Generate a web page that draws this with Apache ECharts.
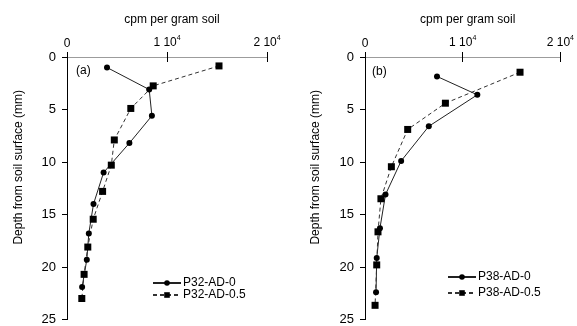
<!DOCTYPE html>
<html>
<head>
<meta charset="utf-8">
<script src="https://cdn.jsdelivr.net/npm/echarts@6/dist/echarts.min.js"></script>
<style>
html,body{margin:0;padding:0;background:#fff;}
#c{width:577px;height:326px;}
</style>
</head>
<body>
<div id="c"></div>
<script>
// ---- data ----
var xTicks = [0, 10000, 20000];
var xTickLabels = ['0', '1 10^4', '2 10^4'];
var yTicks = [0, 5, 10, 15, 20, 25];

// Panel (a)
var depthA0 = [1.0, 3.1, 5.6, 8.2, 11.0, 14.0, 16.8, 19.3, 21.9];
var cpmA0   = [4000, 8220, 8490, 6240, 3660, 2650, 2180, 1980, 1510];
var depthA5 = [0.85, 2.75, 4.9, 7.9, 10.3, 12.8, 15.45, 18.1, 20.7, 23.0];
var cpmA5   = [15200, 8620, 6380, 4730, 4430, 3560, 2620, 2080, 1710, 1480];

// Panel (b)
var depthB0 = [1.85, 3.6, 6.6, 9.9, 13.1, 16.3, 19.15, 22.4];
var cpmB0   = [7370, 11500, 6530, 3700, 2100, 1530, 1200, 1130];
var depthB5 = [1.45, 4.4, 6.9, 10.45, 13.5, 16.65, 19.8, 23.65];
var cpmB5   = [15870, 8230, 4370, 2700, 1630, 1330, 1200, 1030];

var namesA = ['P32-AD-0', 'P32-AD-0.5'];
var namesB = ['P38-AD-0', 'P38-AD-0.5'];
var panelLabels = ['(a)', '(b)'];
var xName = 'cpm per gram soil';
var yName = 'Depth from soil surface (mm)';

function pairs(xs, ys){ return xs.map(function(x,i){ return [x, ys[i]]; }); }

var FONT = '"Liberation Sans", Arial, sans-serif';
var GREY = '#9c9c9c';

function fmtX(v){
  var idx = xTicks.indexOf(v);
  var s = idx >= 0 ? xTickLabels[idx] : String(v);
  var p = s.split('^');
  return p.length > 1 ? '{n|' + p[0] + '}{s|' + p[1] + '}' : '{n|' + s + '}';
}

var grids = [
  {left: 67, top: 57, width: 200, height: 267},
  {left: 365, top: 57, width: 201, height: 267}
];

var xAxes = [], yAxes = [];
[0,1].forEach(function(g){
  xAxes.push({
    gridIndex: g, type: 'value', position: 'top',
    min: xTicks[0], max: xTicks[xTicks.length-1], interval: xTicks[1]-xTicks[0],
    name: xName, nameLocation: 'middle', nameGap: 31,
    nameTextStyle: {fontFamily: FONT, fontSize: 12, color: '#000', padding: [0,0,0,10]},
    axisLine: {show: true, lineStyle: {color: GREY, width: 1}},
    axisTick: {show: true, inside: true, length: 5, lineStyle: {color: '#000'}},
    axisLabel: {show: true, margin: 7, formatter: fmtX,
      rich: {
        n: {fontFamily: FONT, fontSize: 12, color: '#000'},
        s: {fontFamily: FONT, fontSize: 7, color: '#000', padding: [0,0,8,0]}
      }},
    splitLine: {show: false}
  });
  xAxes.push({
    gridIndex: g, type: 'value', position: 'bottom',
    min: xTicks[0], max: xTicks[xTicks.length-1], interval: xTicks[1]-xTicks[0],
    axisLine: {show: true, lineStyle: {color: GREY, width: 1}},
    axisTick: {show: true, inside: true, length: 5, lineStyle: {color: '#000'}},
    axisLabel: {show: false},
    splitLine: {show: false}
  });
  yAxes.push({
    gridIndex: g, type: 'value', position: 'left', inverse: true,
    min: yTicks[0], max: yTicks[yTicks.length-1], interval: yTicks[1]-yTicks[0],
    name: yName, nameLocation: 'middle', nameGap: g === 0 ? 42 : 43,
    nameTextStyle: {fontFamily: FONT, fontSize: 12, color: '#000', padding: [0,0,0,42]},
    axisLine: {show: true, lineStyle: {color: '#000', width: 1}},
    axisTick: {show: true, inside: false, length: 5, lineStyle: {color: '#000'}},
    axisLabel: {show: true, margin: 11, fontFamily: FONT, fontSize: 13, color: '#000'},
    splitLine: {show: false}
  });
  yAxes.push({
    gridIndex: g, type: 'value', position: 'right', inverse: true,
    min: yTicks[0], max: yTicks[yTicks.length-1], interval: yTicks[1]-yTicks[0],
    axisLine: {show: true, lineStyle: {color: '#000', width: 1}},
    axisTick: {show: false},
    axisLabel: {show: false},
    splitLine: {show: false}
  });
});

function solidSeries(name, data, xi, yi){
  return {name: name, type: 'line', xAxisIndex: xi, yAxisIndex: yi, data: data,
    symbol: 'circle', symbolSize: 6, silent: true, animation: false,
    itemStyle: {color: '#000'},
    lineStyle: {color: '#222', width: 1, type: 'solid'}};
}
function dashedSeries(name, data, xi, yi){
  return {name: name, type: 'line', xAxisIndex: xi, yAxisIndex: yi, data: data,
    symbol: 'rect', symbolSize: 7, silent: true, animation: false,
    itemStyle: {color: '#000'},
    lineStyle: {color: '#333', width: 1, type: [4, 3]}};
}

var series = [
  solidSeries(namesA[0], pairs(cpmA0, depthA0), 0, 0),
  dashedSeries(namesA[1], pairs(cpmA5, depthA5), 0, 0),
  solidSeries(namesB[0], pairs(cpmB0, depthB0), 2, 2),
  dashedSeries(namesB[1], pairs(cpmB5, depthB5), 2, 2)
];

function leg(name, left, top){
  return {data: [name], left: left, top: top, orient: 'vertical',
    itemWidth: 28, itemHeight: 7, itemGap: 0, padding: 0,
    selectedMode: false,
    textStyle: {fontFamily: FONT, fontSize: 12, color: '#000', padding: [0,0,0,-3]}};
}

var option = {
  backgroundColor: '#fff',
  animation: false,
  grid: grids,
  xAxis: xAxes,
  yAxis: yAxes,
  legend: [
    leg(namesA[0], 152, 277),
    leg(namesA[1], 152, 289),
    leg(namesB[0], 447, 271),
    leg(namesB[1], 447, 287)
  ],
  graphic: [
    {type: 'text', left: 76, top: 65, style: {text: panelLabels[0], font: '12px ' + FONT, fill: '#000'}},
    {type: 'text', left: 372, top: 66, style: {text: panelLabels[1], font: '12px ' + FONT, fill: '#000'}}
  ],
  series: series
};

var chart = echarts.init(document.getElementById('c'), null, {renderer: 'canvas'});
chart.setOption(option);
</script>
</body>
</html>
